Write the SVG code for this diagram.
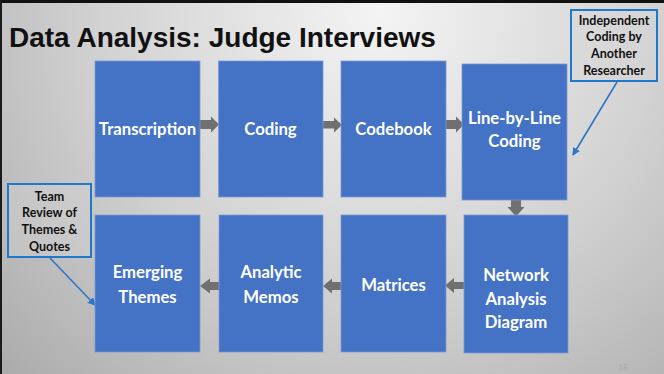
<svg xmlns="http://www.w3.org/2000/svg" width="664" height="374" viewBox="0 0 664 374">
  <defs>
    <radialGradient id="bg" cx="380" cy="10" r="560" gradientUnits="userSpaceOnUse">
      <stop offset="0" stop-color="#f4f4f4"/>
      <stop offset="0.5" stop-color="#d2d2d2"/>
      <stop offset="1" stop-color="#a6a6a6"/>
    </radialGradient>
    <marker id="blueHead" markerWidth="8" markerHeight="8" refX="7" refY="4" orient="auto" markerUnits="userSpaceOnUse">
      <path d="M0,0 L8,4 L0,8 Z" fill="#2e75c6"/>
    </marker>
    <style>
      .box { fill: #4472c4; stroke: #7d9bd6; stroke-width: 0.8; }
      .lbl { font-family: Lato, "Liberation Sans", sans-serif; font-weight: bold; font-size: 16.7px; fill: #ffffff; text-anchor: middle; }
      .arrow { fill: #707070; }
      .callout { fill: #d6d6d6; fill-opacity: 0.35; stroke: #1f78c8; stroke-width: 2; }
      .ctext { font-family: Lato, "Liberation Sans", sans-serif; font-weight: bold; font-size: 12.5px; fill: #111111; text-anchor: middle; }
      .cline { stroke: #2e75c6; stroke-width: 1.6; fill: none; }
    </style>
  </defs>

  <rect x="0" y="0" width="664" height="374" fill="url(#bg)"/>
  <rect x="0" y="0" width="664" height="3" fill="#111111"/>
  <rect x="0" y="0" width="2" height="374" fill="#1a1a1a"/>

  <text x="9" y="47" font-family="'Liberation Sans', Arial, sans-serif" font-weight="bold" font-size="28" fill="#111111">Data Analysis: Judge Interviews</text>

  <g id="connectors">
    <path class="arrow" d="M200,120 H211 V116.5 L219,124.5 L211,132.5 V129 H200 Z"/>
    <path class="arrow" d="M323,121 H334 V117.5 L342,125 L334,132.5 V128.5 H323 Z"/>
    <path class="arrow" d="M446,120 H456 V116.5 L464,124.5 L456,132.5 V129 H446 Z"/>
    <path class="arrow" d="M511,197 H521 V207 H524.5 L516,216.5 L507.5,207 H511 Z"/>
    <path class="arrow" d="M464,282 H454 V278 L445,285.5 L454,293 V289 H464 Z"/>
    <path class="arrow" d="M341,282 H332 V278.5 L323,286 L332,293.5 V290 H341 Z"/>
    <path class="arrow" d="M219,282 H210 V278.5 L200,286 L210,293.5 V290 H219 Z"/>
    <line class="cline" x1="617" y1="82" x2="573" y2="155" marker-end="url(#blueHead)"/>
    <line class="cline" x1="50" y1="258" x2="95" y2="305" marker-end="url(#blueHead)"/>
  </g>

  <g id="transcription">
    <rect class="box" x="95" y="61" width="105" height="136"/>
    <text class="lbl" x="147.5" y="135">Transcription</text>
  </g>
  <g id="coding">
    <rect class="box" x="218.5" y="61" width="104.5" height="136"/>
    <text class="lbl" x="270.5" y="134.5">Coding</text>
  </g>
  <g id="codebook">
    <rect class="box" x="341" y="61" width="105" height="136"/>
    <text class="lbl" x="393.5" y="135">Codebook</text>
  </g>
  <g id="line-by-line">
    <rect class="box" x="462" y="64" width="105" height="136"/>
    <text class="lbl" x="514.5" y="124">Line-by-Line</text>
    <text class="lbl" x="514.5" y="147">Coding</text>
  </g>
  <g id="network">
    <rect class="box" x="464" y="215" width="104" height="138"/>
    <text class="lbl" x="516" y="281">Network</text>
    <text class="lbl" x="516" y="304.5">Analysis</text>
    <text class="lbl" x="516" y="328">Diagram</text>
  </g>
  <g id="matrices">
    <rect class="box" x="341" y="215" width="105" height="137"/>
    <text class="lbl" x="393.5" y="291">Matrices</text>
  </g>
  <g id="analytic-memos">
    <rect class="box" x="219" y="215" width="104" height="137"/>
    <text class="lbl" x="271" y="278">Analytic</text>
    <text class="lbl" x="271" y="303">Memos</text>
  </g>
  <g id="emerging-themes">
    <rect class="box" x="95" y="215" width="105" height="137"/>
    <text class="lbl" x="147.5" y="278">Emerging</text>
    <text class="lbl" x="147.5" y="303">Themes</text>
  </g>

  <g id="independent-coding">
    <rect class="callout" x="571" y="10" width="86" height="71"/>
    <text class="ctext" x="614" y="24.5">Independent</text>
    <text class="ctext" x="614" y="41">Coding by</text>
    <text class="ctext" x="614" y="58">Another</text>
    <text class="ctext" x="614" y="74.5">Researcher</text>
  </g>
  <g id="team-review">
    <rect class="callout" x="8" y="184" width="83" height="73"/>
    <text class="ctext" x="49.5" y="200.5">Team</text>
    <text class="ctext" x="49.5" y="217">Review of</text>
    <text class="ctext" x="49.5" y="234">Themes &amp;</text>
    <text class="ctext" x="49.5" y="250.5">Quotes</text>
  </g>

  <text x="623" y="370" font-family="Lato, sans-serif" font-size="8" fill="#a9a9a9" text-anchor="middle">18</text>
</svg>
